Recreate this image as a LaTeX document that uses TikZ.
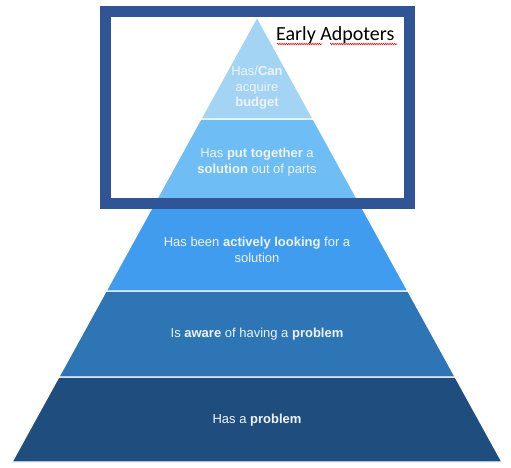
\documentclass[tikz,border=0pt]{standalone}
\usepackage{fontspec}
\setmainfont{Liberation Sans}
\newfontfamily\calfont{Carlito}
\usetikzlibrary{decorations.pathmorphing}
\definecolor{lone}{HTML}{A4D4F4}
\definecolor{ltwo}{HTML}{6EBDF4}
\definecolor{lthree}{HTML}{3F9CEE}
\definecolor{lfour}{HTML}{2E75B6}
\definecolor{lfive}{HTML}{1F4E7E}
\definecolor{framec}{HTML}{2F5597}
\definecolor{txtc}{HTML}{EEF4FA}
\tikzset{
  layer/.style={draw=white, line width=1.2pt, line join=miter},
  ltext/.style={text=txtc, font=\fontsize{13}{15.5}\selectfont, align=center, inner sep=0pt},
  spell/.style={draw=red, line width=0.6pt, decorate, decoration={snake, amplitude=0.7pt, segment length=2.2pt}}
}
\begin{document}
\begin{tikzpicture}[x=1pt,y=-1pt]
\useasboundingbox (0,0) rectangle (511,467);
\fill[white] (0,0) rectangle (511,467);
% layers
\filldraw[layer, fill=lfive]  (58.8,377) -- (455.2,377) -- (502,462) -- (12,462) -- cycle;
\filldraw[layer, fill=lfour]  (106.1,291) -- (407.9,291) -- (455.2,377) -- (58.8,377) -- cycle;
\filldraw[layer, fill=lthree] (153.5,205) -- (360.5,205) -- (407.9,291) -- (106.1,291) -- cycle;
\filldraw[layer, fill=ltwo]   (200.8,119) -- (313.2,119) -- (360.5,205) -- (153.5,205) -- cycle;
\filldraw[layer, fill=lone]   (257,17) -- (313.2,119) -- (200.8,119) -- cycle;
% texts
\node[ltext] (t1) at (257,88) {Has/\textbf{Can}\\acquire\\\textbf{budget}};
\node[ltext] (t2) at (257,162) {Has \textbf{put together} a\\\textbf{solution} out of parts};
\node[ltext] (t3) at (257,250) {Has been \textbf{actively looking} for a\\solution};
\node[ltext] (t4) at (257,334) {Is \textbf{aware} of having a \textbf{problem}};
\node[ltext] (t5) at (257,420) {Has a \textbf{problem}};
% frame
\draw[framec, line width=11pt] (105.5,11.5) rectangle (409.5,203);
% label
\node[anchor=base west, inner sep=0pt, font=\calfont\fontsize{20}{24}\selectfont] (ea) at (276,40) {Early Adpoters};
\coordinate (u1) at (277,44);
\coordinate (u2) at (322,44);
\coordinate (u3) at (330,44);
\coordinate (u4) at (397,44);
\draw[spell] (u1) -- (u2);
\draw[spell] (u3) -- (u4);
\end{tikzpicture}
\end{document}
